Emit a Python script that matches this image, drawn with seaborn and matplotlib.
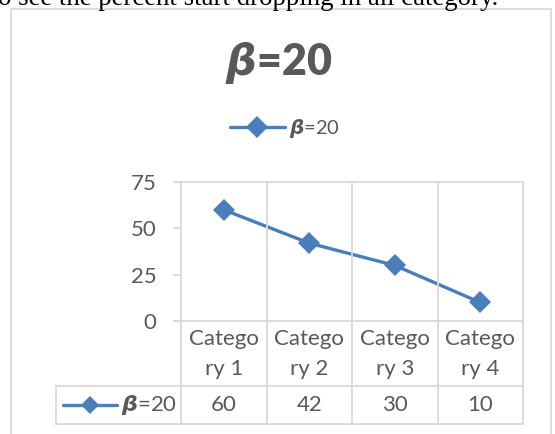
import matplotlib
matplotlib.use("Agg")
import matplotlib.pyplot as plt
import matplotlib.transforms as mtransforms
from matplotlib.lines import Line2D
from matplotlib.patches import Rectangle
import seaborn as sns
import pandas as pd

# ---- data -------------------------------------------------------------
categories = ["Category 1", "Category 2", "Category 3", "Category 4"]
values = [60, 42, 30, 10]
series_name = r"$\beta$=20"
y_ticks = [0, 25, 50, 75]
caption = "o see the percent start dropping in all category."

# ---- style ------------------------------------------------------------
W, H = 555, 434
BLUE = "#4A7EBB"
GRID = "#D9D9D9"
TEXT = "#595959"
LABEL_SIZE = 16

sns.set_theme(style="white")
plt.rcParams["font.family"] = ["Lato", "DejaVu Sans"]
plt.rcParams["mathtext.fontset"] = "custom"
plt.rcParams["mathtext.it"] = "DejaVu Sans:italic:bold"
plt.rcParams["mathtext.rm"] = "Lato"


def fx(px):
    return px / W


def fy(py):
    return 1 - py / H


fig = plt.figure(figsize=(W / 100, H / 100), dpi=100)
fig.patch.set_facecolor("white")

# text line of the surrounding document, cut off at the top
fig.text(fx(-2), fy(5), caption, family="Liberation Serif", fontsize=19.3,
         color="black", va="baseline", ha="left")

# chart frame
fig.add_artist(Rectangle((fx(11), fy(440)), fx(551) - fx(11), fy(9) - fy(440),
                         transform=fig.transFigure, fill=False,
                         edgecolor=GRID, linewidth=1.3))

# plot area
ax = fig.add_axes([fx(181), fy(321), fx(523) - fx(181), fy(182) - fy(321)])
df = pd.DataFrame({"pos": range(len(values)), "value": values})
sns.lineplot(data=df, x="pos", y="value", ax=ax, color=BLUE, linewidth=2.4,
             marker="D", markersize=11, markeredgecolor=BLUE,
             markeredgewidth=0, label=series_name, legend=False)

ax.set_xlim(-0.5, len(values) - 0.5)
ax.set_ylim(0, 75)
ax.set_yticks(y_ticks)
ax.set_xticks([])
ax.set_xlabel("")
ax.set_ylabel("")
for side in ["left", "right"]:
    ax.spines[side].set_visible(False)
for side in ["top", "bottom"]:
    ax.spines[side].set_visible(True)
    ax.spines[side].set_color(GRID)
    ax.spines[side].set_linewidth(1.3)
ax.tick_params(axis="y", left=True, length=6, width=1.3, color=GRID,
               labelsize=LABEL_SIZE, labelcolor=TEXT, pad=11.5)
ax.set_facecolor("white")

blend = mtransforms.blended_transform_factory(ax.transData, fig.transFigure)

# category boundary lines, running down through the data table
for b in [i - 0.5 for i in range(len(values) + 1)]:
    fig.add_artist(Line2D([b, b], [fy(182), fy(424)], transform=blend,
                          color=GRID, linewidth=1.3))

# data table outline
for yy in [386, 424]:
    fig.add_artist(Line2D([fx(56), fx(523)], [fy(yy), fy(yy)],
                          transform=fig.transFigure, color=GRID, linewidth=1.3))
fig.add_artist(Line2D([fx(56), fx(56)], [fy(386), fy(424)],
                      transform=fig.transFigure, color=GRID, linewidth=1.3))

# category labels (wrapped) and values
for i, (cat, val) in enumerate(zip(categories, values)):
    fig.text(i, fy(339), cat[:6], transform=blend, ha="center", va="center",
             fontsize=LABEL_SIZE, color=TEXT)
    fig.text(i, fy(369), cat[6:], transform=blend, ha="center", va="center",
             fontsize=LABEL_SIZE, color=TEXT)
    fig.text(i, fy(405), f"{val}", transform=blend, ha="center", va="center",
             fontsize=LABEL_SIZE, color=TEXT)

# legend key inside the table
fig.add_artist(Line2D([fx(63), fx(117)], [fy(405), fy(405)],
                      transform=fig.transFigure, color=BLUE, linewidth=2.4))
fig.add_artist(Line2D([fx(90)], [fy(405)], transform=fig.transFigure,
                      marker="D", markersize=9, color=BLUE, markeredgewidth=0))
fig.text(fx(121), fy(405), series_name, ha="left", va="center",
         fontsize=LABEL_SIZE, color=TEXT)

# legend above the plot
ax.legend(loc="center", bbox_to_anchor=(fx(285), fy(129)),
          bbox_transform=fig.transFigure, frameon=False, fontsize=14.5,
          handlelength=2.7, handletextpad=0.2, labelcolor=TEXT)

# title
fig.text(fx(279), fy(75), series_name, ha="center", va="baseline",
         fontsize=31, fontweight="heavy", color=TEXT)

fig.savefig("out.png", dpi=100)
